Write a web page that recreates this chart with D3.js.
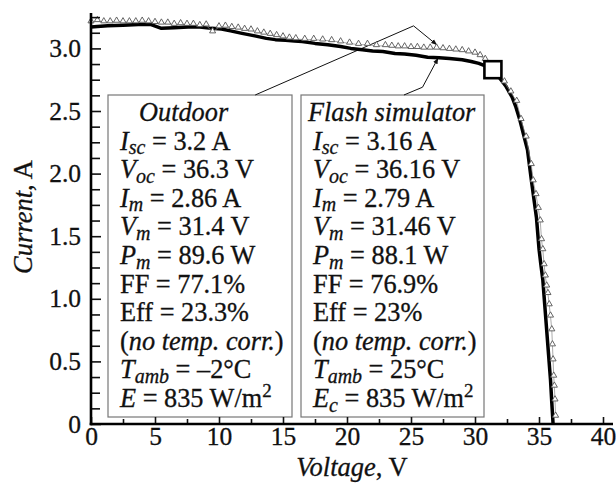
<!DOCTYPE html>
<html><head><meta charset="utf-8">
<script src="https://cdn.jsdelivr.net/npm/d3@7"></script>
<style>
html,body{margin:0;padding:0;background:#fff;}
text{font-family:'Liberation Serif','Times New Roman',serif;fill:#111;stroke:#111;stroke-width:0.3px;}
</style>
</head><body>
<svg id="chart" width="616" height="491"></svg>
<script>
// ---------- data ----------
// Flash simulator I-V curve (thick line): voltage (V), current (A)
const flashV = [0,0.5,1.3,2.5,3.7,4.7,5.5,6.5,7.6,8.5,9.4,10.2,10.9,11.8,12.8,13.7,14.4,15.2,15.9,16.5,17.5,18.5,19.5,20.3,21.2,22.0,22.8,23.75,24.5,25.4,26.3,27.2,28.0,29.0,29.7,30.3,30.8,31.4,31.95,32.4,32.9,33.2,33.5,33.8,34.1,34.4,34.6,34.8,35.0,35.15,35.3,35.45,35.6,35.75,35.9,36.0,36.1];
const flashI = [3.17,3.175,3.18,3.185,3.19,3.19,3.16,3.165,3.17,3.17,3.16,3.155,3.14,3.12,3.10,3.08,3.07,3.065,3.06,3.055,3.04,3.03,3.015,3.0,2.99,2.98,2.975,2.96,2.955,2.945,2.93,2.925,2.92,2.91,2.895,2.88,2.86,2.83,2.76,2.70,2.61,2.53,2.43,2.31,2.19,1.95,1.80,1.65,1.40,1.27,1.15,0.95,0.75,0.55,0.35,0.17,0];
// Outdoor I-V curve (open triangles)
const outdoorV = [0,0.5,1.0,1.5,2.0,2.5,3.0,3.5,4.0,4.5,5.0,5.5,6.0,6.5,7.0,7.5,8.0,8.5,9.0,9.5,10.0,10.5,11.0,11.5,12.0,12.5,13.0,13.5,14.0,14.5,15.0,15.5,16.0,16.7,17.4,18.1,18.8,19.5,20.2,20.9,21.6,22.3,23.0,23.5,24.0,24.5,25.0,25.5,26.0,26.5,27.0,27.5,28.0,28.5,29.0,29.5,30.0,30.4,30.8,31.2,31.7,32.3,32.8,33.26,33.6,34.0,34.4,34.55,34.77,34.95,35.1,35.2,35.3,35.4,35.5,35.6,35.7,35.8,35.9,36.0,36.05,36.1,36.15,36.2,36.25,36.3];
const outdoorI = [3.21,3.22,3.21,3.21,3.215,3.21,3.21,3.21,3.215,3.21,3.205,3.20,3.20,3.19,3.195,3.19,3.19,3.18,3.185,3.13,3.17,3.175,3.165,3.16,3.15,3.145,3.13,3.12,3.11,3.10,3.09,3.08,3.075,3.07,3.07,3.065,3.06,3.05,3.04,3.03,3.03,3.02,3.02,3.015,3.01,3.01,3.005,3.005,3.0,3.0,3.0,2.995,2.99,2.985,2.98,2.97,2.96,2.94,2.91,2.87,2.80,2.73,2.65,2.575,2.43,2.29,2.07,1.94,1.83,1.72,1.62,1.47,1.39,1.27,1.18,1.10,1.04,0.95,0.86,0.75,0.63,0.51,0.38,0.30,0.19,0.06];
// maximum power point marker
const mppV = [31.4];
const mppI = [2.83];

const xTicks = [0,5,10,15,20,25,30,35,40];
const xMinorTicks = [2.5,7.5,12.5,17.5,22.5,27.5,32.5,37.5];
const yTicks = [0,0.5,1.0,1.5,2.0,2.5,3.0];
const yMinorTicks = [0.125,0.25,0.375,0.625,0.75,0.875,1.125,1.25,1.375,1.625,1.75,1.875,2.125,2.25,2.375,2.625,2.75,2.875,3.125,3.25];
const xTitle = [["Voltage","i"],[", V","n"]];
const yTitle = [["Current","i"],[", A","n"]];

// text lines of the two boxes: [text, style] (n normal, i italic, sub subscript, sup superscript)
const outdoorLines = [
  [["Outdoor","i"]],
  [["I","i"],["sc","sub"],[" = 3.2 A","n"]],
  [["V","i"],["oc","sub"],[" = 36.3 V","n"]],
  [["I","i"],["m","sub"],[" = 2.86 A","n"]],
  [["V","i"],["m","sub"],[" = 31.4 V","n"]],
  [["P","i"],["m","sub"],[" = 89.6 W","n"]],
  [["FF = 77.1%","n"]],
  [["Eff = 23.3%","n"]],
  [["(","n"],["no temp. corr.","i"],[")","n"]],
  [["T","i"],["amb","sub"],[" = \u20132\u00B0C","n"]],
  [["E","i"],[" = 835 W/m","n"],["2","sup"]]
];
const flashLines = [
  [["Flash simulator","i"]],
  [["I","i"],["sc","sub"],[" = 3.16 A","n"]],
  [["V","i"],["oc","sub"],[" = 36.16 V","n"]],
  [["I","i"],["m","sub"],[" = 2.79 A","n"]],
  [["V","i"],["m","sub"],[" = 31.46 V","n"]],
  [["P","i"],["m","sub"],[" = 88.1 W","n"]],
  [["FF = 76.9%","n"]],
  [["Eff = 23%","n"]],
  [["(","n"],["no temp. corr.","i"],[")","n"]],
  [["T","i"],["amb","sub"],[" = 25\u00B0C","n"]],
  [["E","i"],["c","sub"],[" = 835 W/m","n"],["2","sup"]]
];

// ---------- drawing ----------
const svg = d3.select("#chart");
const x0 = 91, x1 = 603, yBase = 424, y3 = 48.4;
const x = d3.scaleLinear().domain([0,40]).range([x0,x1]);
const y = d3.scaleLinear().domain([0,3]).range([yBase,y3]);
const FS = 26.3, TFS = 25.5, AFS = 26.5;

svg.append("rect").attr("width",616).attr("height",491).attr("fill","#fff");

// boxes (drawn under curves)
const boxes = [
  {lines: outdoorLines, left:108, right:292, titleDx:31},
  {lines: flashLines, left:301, right:484, titleDx:7}
];
const boxTop = 95, boxBottom = 417, firstBase = 121, lineH = 28.6;

boxes.forEach(b => {
  svg.append("rect").attr("x",b.left).attr("y",boxTop)
    .attr("width",b.right-b.left).attr("height",boxBottom-boxTop)
    .attr("fill","#fff").attr("stroke","#777").attr("stroke-width",1.2);
  b.lines.forEach((segs,i) => {
    const t = svg.append("text")
      .attr("x", b.left + (i===0 ? b.titleDx : 12))
      .attr("y", firstBase + i*lineH)
      .attr("font-size", FS);
    let shift = 0;
    segs.forEach(([txt,st]) => {
      const ts = t.append("tspan").text(txt);
      let target = 0;
      if (st === "i") ts.attr("font-style","italic");
      if (st === "sub") { ts.attr("font-style","italic").attr("font-size",FS*0.76); target = 4.5; }
      if (st === "sup") { ts.attr("font-size",FS*0.72); target = -10; }
      if (target !== shift) { ts.attr("dy", target - shift); shift = target; }
    });
  });
});

// annotation leader lines
const defs = svg.append("defs");
defs.append("marker").attr("id","arr").attr("viewBox","0 0 10 10")
  .attr("refX",9).attr("refY",5).attr("markerWidth",6).attr("markerHeight",6)
  .attr("orient","auto").append("path").attr("d","M0,1 L10,5 L0,9 z").attr("fill","#111");
const lead1 = [[12.83,2.628],[25.2,3.18],[27.0,3.03]];
const lead2 = [[24.45,2.628],[25.9,2.69],[27.1,2.92]];
const lg = d3.line().x(d=>x(d[0])).y(d=>y(d[1]));
[lead1,lead2].forEach(p => svg.append("path").attr("d",lg(p)).attr("fill","none")
  .attr("stroke","#111").attr("stroke-width",1).attr("marker-end","url(#arr)"));

// flash curve (thick)
const flashData = flashV.map((v,i)=>[v,flashI[i]]);
svg.append("path").attr("d",lg(flashData)).attr("fill","none")
  .attr("stroke","#000").attr("stroke-width",3.5).attr("stroke-linejoin","round");

// outdoor curve (triangles)
const outData = outdoorV.map((v,i)=>[v,outdoorI[i]]);
svg.append("path").attr("d",lg(outData)).attr("fill","none")
  .attr("stroke","#888").attr("stroke-width",0.7);
const tri = d3.symbol().type(d3.symbolTriangle).size(16);
svg.append("g").selectAll("path").data(outData).join("path")
  .attr("transform",d=>`translate(${x(d[0])},${y(d[1])-1})`)
  .attr("d",tri).attr("fill","#fff").attr("stroke","#555").attr("stroke-width",0.9);

// MPP square
svg.append("g").selectAll("rect").data(mppV.map((v,i)=>[v,mppI[i]])).join("rect")
  .attr("x",d=>x(d[0])-8.5).attr("y",d=>y(d[1])-8.5).attr("width",17).attr("height",17)
  .attr("fill","#fff").attr("stroke","#000").attr("stroke-width",2.6);

// axes
const gx = svg.append("g").attr("transform",`translate(0,${yBase})`)
  .call(d3.axisBottom(x).tickValues(xTicks).tickSize(-7).tickPadding(3).tickFormat(d3.format("d")));
gx.select(".domain").remove();
gx.selectAll("text").attr("font-size",TFS).attr("font-family","'Liberation Serif',serif").attr("fill","#111");
gx.selectAll("line").attr("stroke","#111").attr("stroke-width",1.6);
svg.append("g").attr("transform",`translate(0,${yBase})`)
  .call(d3.axisBottom(x).tickValues(xMinorTicks).tickSize(-5).tickFormat(""))
  .call(g=>g.select(".domain").remove())
  .selectAll("line").attr("stroke","#111").attr("stroke-width",1.6);

const gy = svg.append("g").attr("transform",`translate(${x0},0)`)
  .call(d3.axisLeft(y).tickValues(yTicks).tickSize(-10).tickPadding(10)
    .tickFormat(d=> d===0 ? "0" : d3.format(".1f")(d)));
gy.select(".domain").remove();
gy.selectAll("text").attr("font-size",TFS).attr("font-family","'Liberation Serif',serif").attr("fill","#111");
gy.selectAll("line").attr("stroke","#111").attr("stroke-width",1.6);
svg.append("g").attr("transform",`translate(${x0},0)`)
  .call(d3.axisLeft(y).tickValues(yMinorTicks).tickSize(-9).tickFormat(""))
  .call(g=>g.select(".domain").remove())
  .selectAll("line").attr("stroke","#111").attr("stroke-width",1.6);

// axis lines
svg.append("line").attr("x1",x0).attr("x2",x0).attr("y1",yBase+1.3).attr("y2",13)
  .attr("stroke","#000").attr("stroke-width",2.6);
svg.append("line").attr("x1",x0-1.3).attr("x2",613).attr("y1",yBase).attr("y2",yBase)
  .attr("stroke","#000").attr("stroke-width",2.6);

// axis titles
const xt = svg.append("text").attr("x",352).attr("y",476).attr("text-anchor","middle").attr("font-size",AFS);
xTitle.forEach(([t,s])=>xt.append("tspan").text(t).attr("font-style",s==="i"?"italic":"normal"));
const yt = svg.append("text").attr("transform","translate(32,217) rotate(-90)").attr("text-anchor","middle").attr("font-size",AFS);
yTitle.forEach(([t,s])=>yt.append("tspan").text(t).attr("font-style",s==="i"?"italic":"normal"));
</script>
</body></html>
